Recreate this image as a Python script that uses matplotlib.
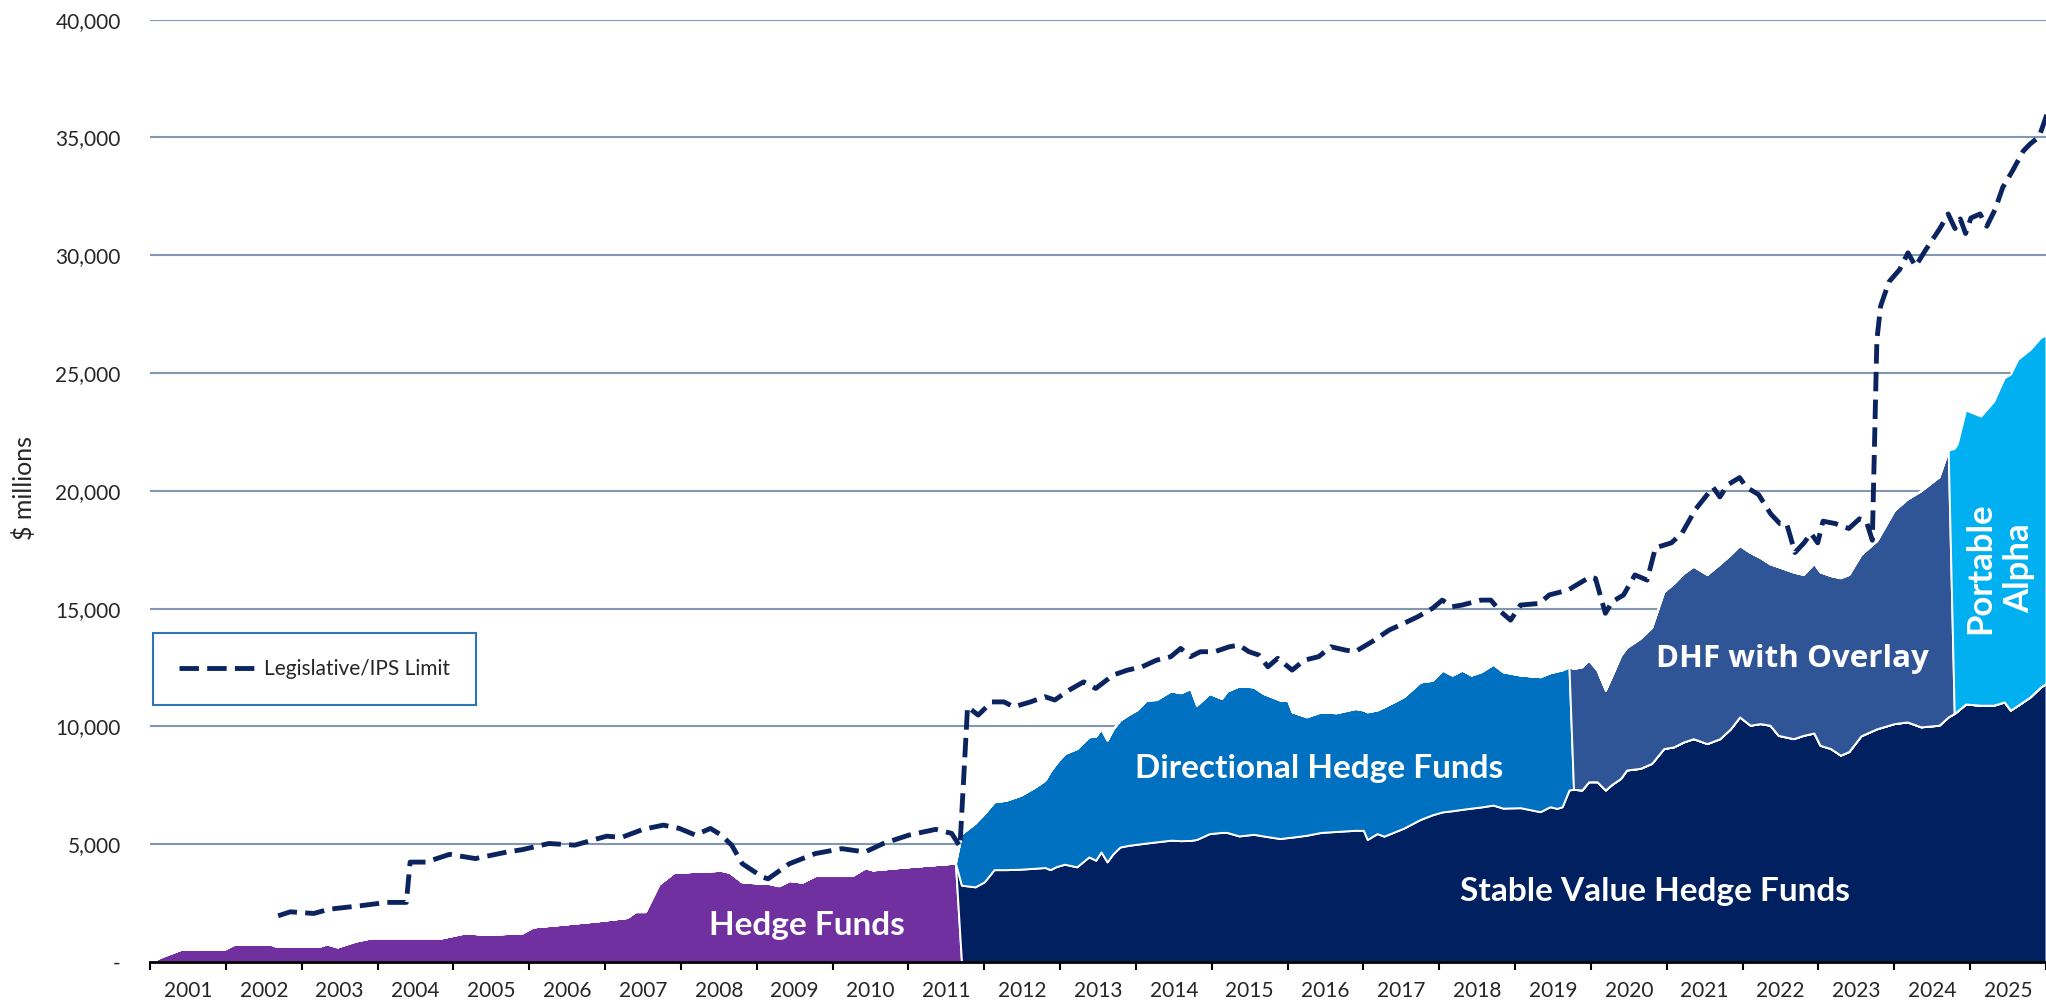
import matplotlib.pyplot as plt
import numpy as np
from matplotlib.ticker import FuncFormatter

plt.rcParams['font.family'] = ['Lato', 'DejaVu Sans']

# all values in $ millions, dates as decimal years
# (fiscal year labels sit in the middle of each year band)

# era 1 - hedge funds only
hf_years = [2000.50, 2000.66, 2000.90, 2001.49, 2001.62, 2002.11, 2002.17, 2002.73, 2002.83,
            2002.97, 2003.21, 2003.42, 2004.35, 2004.66, 2004.93, 2005.41, 2005.55, 2005.83,
            2006.38, 2006.79, 2006.90, 2007.03, 2007.21, 2007.41, 2008.03, 2008.14, 2008.31,
            2008.65, 2008.79, 2008.93, 2009.10, 2009.27, 2009.76, 2009.93, 2010.03, 2010.44,
            2011.12]
hf_vals = [0, 240, 530, 560, 770, 740, 660, 670, 770,
           640, 890, 1030, 1030, 1240, 1170, 1240, 1490, 1570,
           1740, 1890, 2140, 2140, 3310, 3810, 3890, 3810, 3390,
           3340, 3240, 3460, 3390, 3670, 3670, 4000, 3910, 4030,
           4200]

# era 2 - stable value + directional hedge funds (top = stacked total)
dhf_years = [2011.20, 2011.38, 2011.50, 2011.63, 2011.79, 2011.98, 2012.17, 2012.30, 2012.37,
             2012.45, 2012.56, 2012.72, 2012.88, 2012.97, 2013.04, 2013.12, 2013.20, 2013.29,
             2013.40, 2013.52, 2013.64, 2013.77, 2013.96, 2014.09, 2014.22, 2014.30, 2014.47,
             2014.63, 2014.70, 2014.86, 2015.05, 2015.18, 2015.40, 2015.50, 2015.56, 2015.75,
             2015.94, 2016.14, 2016.39, 2016.50, 2016.55, 2016.68, 2016.77, 2017.03, 2017.25,
             2017.41, 2017.54, 2017.67, 2017.80, 2017.92, 2018.05, 2018.21, 2018.34, 2018.57,
             2018.83, 2018.96, 2019.05, 2019.12, 2019.21]
dhf_svhf = [3260, 3190, 3400, 3920, 3920, 3940, 3980, 4010, 3920,
            4050, 4150, 4040, 4460, 4320, 4670, 4250, 4600, 4880,
            4950, 5000, 5050, 5100, 5170, 5150, 5160, 5200, 5450,
            5500, 5500, 5350, 5420, 5350, 5240, 5280, 5300, 5380,
            5500, 5540, 5590, 5590, 5200, 5450, 5340, 5680, 6050,
            6250, 6370, 6420, 6480, 6530, 6580, 6660, 6530, 6550,
            6380, 6590, 6520, 6590, 7300]
dhf_top = [5450, 5900, 6300, 6800, 6870, 7080, 7430, 7720, 8100,
           8450, 8850, 9060, 9560, 9590, 9910, 9420, 9900, 10270,
           10500, 10720, 11120, 11140, 11510, 11430, 11610, 10900, 11400,
           11190, 11500, 11720, 11680, 11400, 11120, 11120, 10620, 10410,
           10620, 10580, 10760, 10700, 10620, 10700, 10830, 11260, 11890,
           11960, 12390, 12180, 12390, 12180, 12320, 12640, 12320, 12180,
           12110, 12280, 12350, 12400, 12530]

# era 3 - stable value + DHF with overlay
ovl_years = [2019.27, 2019.38, 2019.47, 2019.58, 2019.69, 2019.78, 2019.89, 2019.97, 2020.15,
             2020.30, 2020.46, 2020.59, 2020.72, 2020.85, 2021.03, 2021.20, 2021.34, 2021.46,
             2021.60, 2021.73, 2021.86, 2021.97, 2022.17, 2022.30, 2022.44, 2022.52, 2022.66,
             2022.79, 2022.90, 2023.06, 2023.27, 2023.50, 2023.67, 2023.85, 2024.09, 2024.21]
ovl_svhf = [7330, 7300, 7650, 7650, 7300, 7550, 7790, 8150, 8220,
            8430, 9060, 9130, 9340, 9480, 9270, 9480, 9900, 10400,
            10050, 10120, 10050, 9620, 9480, 9620, 9720, 9200, 9060,
            8780, 8930, 9600, 9900, 10120, 10190, 9980, 10050, 10400]
ovl_top = [12460, 12530, 12810, 12390, 11540, 12180, 13000, 13350, 13740,
           14200, 15720, 16070, 16500, 16800, 16450, 16900, 17300, 17680,
           17380, 17170, 16900, 16780, 16550, 16450, 16920, 16560, 16400,
           16310, 16450, 17300, 17890, 19180, 19650, 20000, 20600, 21730]

# era 4 - stable value + portable alpha
pa_years = [2024.29, 2024.33, 2024.44, 2024.64, 2024.81, 2024.95, 2025.03, 2025.13, 2025.29,
            2025.43, 2025.50]
pa_svhf = [10550, 10650, 10950, 10900, 10900, 11040, 10690, 10900, 11250, 11680, 11820]
pa_top = [21800, 22000, 23430, 23170, 23800, 24800, 24950, 25590, 26000, 26510, 26610]

# legislative / IPS limit
limit_years = [2002.19, 2002.35, 2002.66, 2002.86, 2003.28, 2003.62, 2003.88, 2003.93, 2004.14,
               2004.45, 2004.79, 2005.21, 2005.41, 2005.76, 2006.10, 2006.52, 2006.72, 2007.00,
               2007.27, 2007.48, 2007.69, 2007.89, 2008.03, 2008.17, 2008.31, 2008.58, 2008.65,
               2008.93, 2009.27, 2009.62, 2009.93, 2010.17, 2010.51, 2010.86, 2011.07, 2011.18,
               2011.28, 2011.42, 2011.60, 2011.76, 2011.89, 2012.11, 2012.30, 2012.43, 2012.62,
               2012.81, 2012.97, 2013.20, 2013.39, 2013.58, 2013.77, 2013.96, 2014.09, 2014.22,
               2014.35, 2014.54, 2014.73, 2014.86, 2014.99, 2015.12, 2015.24, 2015.37, 2015.56,
               2015.72, 2015.91, 2016.07, 2016.26, 2016.39, 2016.61, 2016.84, 2017.03, 2017.22,
               2017.41, 2017.54, 2017.67, 2017.80, 2018.05, 2018.18, 2018.31, 2018.44, 2018.57,
               2018.82, 2018.95, 2019.20, 2019.49, 2019.56, 2019.69, 2019.78, 2019.93, 2020.08,
               2020.24, 2020.35, 2020.56, 2020.70, 2020.88, 2021.11, 2021.20, 2021.30, 2021.46,
               2021.55, 2021.71, 2021.87, 2021.99, 2022.08, 2022.19, 2022.31, 2022.40, 2022.49,
               2022.56, 2022.72, 2022.90, 2023.04, 2023.13, 2023.21, 2023.27, 2023.32, 2023.43,
               2023.57, 2023.68, 2023.78, 2023.91, 2024.10, 2024.21, 2024.30, 2024.37, 2024.44,
               2024.51, 2024.63, 2024.72, 2024.83, 2024.93, 2025.06, 2025.20, 2025.29, 2025.41,
               2025.51]
limit_vals = [1960, 2130, 2060, 2240, 2390, 2530, 2530, 4240, 4240,
              4570, 4390, 4670, 4770, 5030, 4960, 5340, 5290, 5630,
              5810, 5670, 5390, 5670, 5390, 4960, 4170, 3600, 3530,
              4170, 4600, 4810, 4670, 5030, 5390, 5630, 5460, 4900,
              10830, 10480, 11040, 11040, 10830, 11040, 11260, 11120, 11540,
              11890, 11610, 12180, 12390, 12530, 12810, 12960, 13310, 12960,
              13170, 13170, 13380, 13450, 13170, 13030, 12530, 12890, 12390,
              12810, 12960, 13380, 13240, 13170, 13590, 14090, 14370, 14660,
              15010, 15360, 15080, 15150, 15360, 15360, 14870, 14510, 15150,
              15220, 15580, 15790, 16350, 16280, 14800, 15290, 15580, 16430,
              16210, 17580, 17790, 18200, 19220, 20150, 19740, 20250, 20560,
              20150, 19840, 19020, 18610, 18610, 17380, 17790, 18200, 17790,
              18710, 18610, 18400, 18810, 18710, 17900, 26410, 27850, 28870,
              29390, 30100, 29530, 30210, 31130, 31750, 31130, 31540, 30920,
              31580, 31750, 31230, 31950, 32880, 33590, 34420, 34720, 35030,
              35960]

year_labels = [str(y) for y in range(2001, 2026)]

colors = ['#7030A0', '#002060', '#0070C0', '#2F5597', '#00B0F0']

# build one stacked table out of the four eras
n1, n2, n3, n4 = len(hf_years), len(dhf_years), len(ovl_years), len(pa_years)
z = np.zeros
years = np.concatenate([hf_years, dhf_years, ovl_years, pa_years])
hedge = np.concatenate([hf_vals, z(n2 + n3 + n4)])
svhf = np.concatenate([z(n1), dhf_svhf, ovl_svhf, pa_svhf])
dhf = np.concatenate([z(n1), np.subtract(dhf_top, dhf_svhf), z(n3 + n4)])
ovl = np.concatenate([z(n1 + n2), np.subtract(ovl_top, ovl_svhf), z(n4)])
pa = np.concatenate([z(n1 + n2 + n3), np.subtract(pa_top, pa_svhf)])

fig = plt.figure(figsize=(20.46, 10.06), dpi=100)
ax = fig.add_axes([150 / 2046, 44 / 1006, 1896 / 2046, 942.4 / 1006])

ax.stackplot(years, hedge, svhf, dhf, ovl, pa, colors=colors,
             edgecolor='white', linewidth=1.4)
ax.plot(limit_years, limit_vals, color='#0B2460', lw=3.5, dashes=(4, 1.7),
        dash_capstyle='butt', label='Legislative/IPS Limit', zorder=3)

# area labels
lab = dict(color='white', fontweight='bold', ha='center', va='center')
ax.text(2009.16, 1570, 'Hedge Funds', fontsize=24, **lab)
ax.text(2015.92, 8210, 'Directional Hedge Funds', fontsize=24, **lab)
ax.text(2020.35, 2990, 'Stable Value Hedge Funds', fontsize=24, **lab)
ax.text(2022.16, 12860, 'DHF with Overlay', fontsize=22.5,
        family=['Open Sans', 'DejaVu Sans'], **lab)
ax.text(2024.89, 16720, 'Portable\nAlpha', rotation=90, linespacing=1.3,
        multialignment='center', fontsize=25, **lab)

# axes
ax.set_xlim(2000.5, 2025.5)
ax.set_ylim(0, 40000)
ax.set_xticks(np.arange(2000.5, 2026, 1))
ax.set_xticks(range(2001, 2026), minor=True)
ax.set_xticklabels(year_labels, minor=True)
ax.tick_params(axis='x', which='major', length=6, width=1.5, color='black', labelbottom=False)
ax.tick_params(axis='x', which='minor', length=0, pad=14, labelsize=15, labelcolor='#262626')
ax.set_yticks(range(0, 40001, 5000))
ax.yaxis.set_major_formatter(FuncFormatter(lambda v, p: '-' if v == 0 else f'{v:,.0f}'))
ax.tick_params(axis='y', length=0, pad=21, labelsize=15, labelcolor='#262626')
ax.yaxis.grid(True, color='#8497B0', lw=1.5)
ax.set_axisbelow(True)
for s in ['top', 'right', 'left']:
    ax.spines[s].set_visible(False)
ax.spines['bottom'].set_linewidth(2)
ax.spines['bottom'].set_color('black')
ax.spines['bottom'].set_zorder(4)

fig.text(24 / 2046, 1 - 488 / 1006, '$ millions', rotation=90, ha='center', va='center',
         fontsize=18, color='#262626')

leg = ax.legend(loc='upper left', bbox_to_anchor=(152.7 / 2046, 1 - 633.3 / 1006),
                bbox_transform=fig.transFigure, borderaxespad=0, fontsize=15,
                handlelength=3.8, handletextpad=0.3, borderpad=1.25, fancybox=False,
                framealpha=1, edgecolor='#2E75B6')
leg.get_frame().set_linewidth(1.5)
for t in leg.get_texts():
    t.set_color('#262626')

fig.savefig('out.png', dpi=100)
